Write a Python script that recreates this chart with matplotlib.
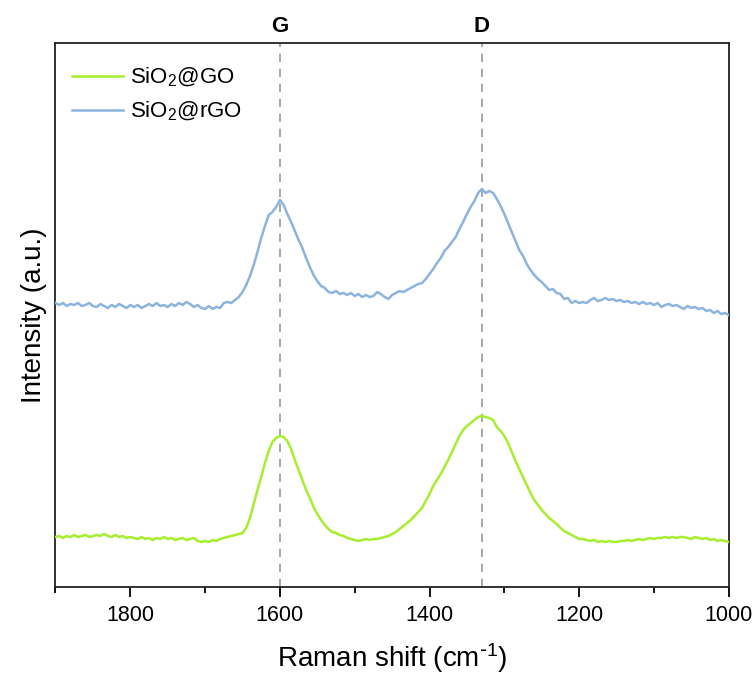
import numpy as np
import matplotlib.pyplot as plt
from matplotlib.ticker import MultipleLocator

plt.rcParams['font.family'] = ['Liberation Sans', 'DejaVu Sans']
plt.rcParams['mathtext.default'] = 'regular'

# Raman shift axis, 1900 -> 1000 cm-1 in 5 cm-1 steps
shift = np.arange(1900, 995, -5)

# SiO2@rGO intensity (a.u.)
rgo = [
    284, 282, 284, 281, 283, 282, 284, 281, 282, 284,
    281, 280, 283, 281, 279, 282, 280, 283, 281, 279,
    282, 280, 282, 279, 281, 283, 281, 284, 281, 282,
    280, 283, 281, 284, 282, 285, 283, 280, 282, 279,
    278, 281, 278, 280, 279, 284, 285, 284, 287, 290,
    295, 302, 311, 322, 335, 349, 361, 372, 375, 380,
    387, 382, 373, 365, 356, 347, 339, 329, 320, 312,
    306, 301, 299, 295, 294, 296, 293, 294, 292, 294,
    291, 293, 290, 292, 290, 291, 295, 293, 290, 288,
    292, 294, 296, 295, 297, 299, 301, 303, 304, 308,
    313, 318, 324, 329, 336, 340, 345, 350, 358, 365,
    373, 380, 386, 394, 398, 394, 396, 394, 388, 381,
    373, 364, 355, 346, 337, 331, 323, 317, 312, 308,
    305, 301, 297, 298, 294, 293, 288, 289, 284, 286,
    284, 285, 284, 287, 289, 286, 287, 289, 287, 288,
    286, 287, 285, 286, 284, 285, 283, 285, 283, 284,
    282, 284, 280, 282, 283, 281, 282, 280, 278, 281,
    279, 280, 278, 279, 276, 277, 274, 276, 273, 274,
    272,
]

# SiO2@GO intensity (a.u.)
go = [
    50, 51, 49, 51, 50, 52, 50, 51, 52, 50,
    51, 52, 51, 53, 51, 50, 52, 50, 51, 49,
    50, 49, 48, 50, 48, 49, 47, 49, 48, 50,
    48, 49, 47, 48, 49, 47, 48, 49, 46, 45,
    46, 45, 47, 46, 48, 49, 50, 51, 52, 53,
    54, 59, 69, 83, 97, 110, 124, 136, 145, 149,
    151, 150, 146, 138, 127, 117, 107, 97, 89, 80,
    73, 67, 62, 58, 55, 54, 52, 51, 49, 48,
    47, 46, 47, 48, 47, 48, 48, 49, 50, 51,
    53, 55, 58, 61, 64, 67, 71, 75, 79, 86,
    93, 101, 107, 113, 120, 127, 135, 143, 151, 157,
    161, 164, 167, 170, 171, 170, 169, 167, 160, 156,
    151, 144, 135, 126, 118, 110, 102, 94, 87, 82,
    77, 73, 69, 66, 63, 59, 56, 54, 52, 50,
    48, 48, 47, 46, 47, 45, 46, 45, 46, 45,
    45, 46, 46, 47, 46, 47, 48, 47, 48, 49,
    48, 49, 49, 50, 49, 50, 49, 50, 50, 49,
    48, 50, 49, 48, 49, 47, 48, 46, 47, 46,
    45,
]

peak_names = ['G', 'D']
peak_pos = [1600, 1330]

fig = plt.figure(figsize=(7.56, 6.75), dpi=100)
ax = fig.add_axes([0.0734, 0.1304, 0.8905, 0.8059])

ax.plot(shift, go, color='#A6EE2E', lw=1.8, label='SiO$_2$@GO', zorder=3)
ax.plot(shift, rgo, color='#8DB4DE', lw=1.8, label='SiO$_2$@rGO', zorder=3)

# dashed guides for the G and D bands
for name, pos in zip(peak_names, peak_pos):
    ax.axvline(pos, color='#9a9a9a', lw=1.2, ls=(0, (5, 4)), zorder=2)
    ax.text(pos, 1.03, name, transform=ax.get_xaxis_transform(),
            ha='center', va='center', fontsize=16, fontweight='bold')

ax.set_xlim(1900, 1000)
ax.set_ylim(0, 544)
ax.xaxis.set_major_locator(MultipleLocator(200))
ax.xaxis.set_minor_locator(MultipleLocator(100))
ax.set_yticks([])
ax.tick_params(axis='x', which='major', direction='out', length=7, width=1.3,
               labelsize=15.5, pad=6)
ax.tick_params(axis='x', which='minor', direction='out', length=4, width=1.3)
for sp in ax.spines.values():
    sp.set_linewidth(1.3)
    sp.set_color('#222222')

ax.set_xlabel(r'Raman shift (cm$^{\text{-}1}$)', fontsize=20, labelpad=11)
ax.set_ylabel('Intensity (a.u.)', fontsize=20, labelpad=6)

ax.legend(loc='upper left', frameon=False, fontsize=16, handlelength=2.3,
          handletextpad=0.3, labelspacing=0.5,
          bbox_to_anchor=(-0.005, 0.995))

fig.savefig('out.png', dpi=100)
